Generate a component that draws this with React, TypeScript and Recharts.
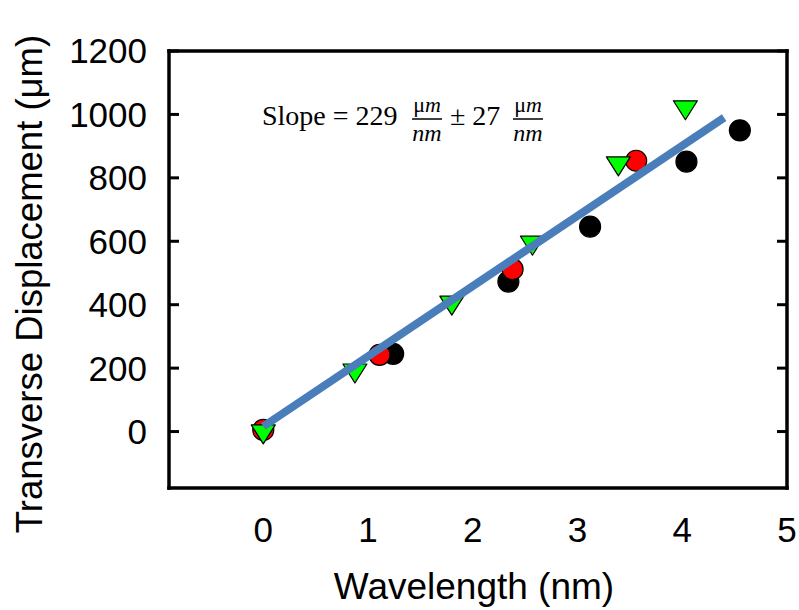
import React from 'react';
import { ScatterChart, Scatter, XAxis, YAxis } from 'recharts';

// Black circles
const blackX = [1.24, 2.34, 3.12, 4.04, 4.55];
const blackY = [245, 473, 646, 851, 950];

// Red circles
const redX = [0, 1.11, 2.38, 3.56];
const redY = [5, 242, 512, 854];

// Green triangles (pointing down)
const greenX = [0, 0.875, 1.8, 2.57, 3.39, 4.03];
const greenY = [-9, 183, 397, 586, 836, 1013];

// Fit line end points
const fitX = [0, 4.4];
const fitY = [16, 990];

const xTicks = [0, 1, 2, 3, 4, 5];
const yTicks = [0, 200, 400, 600, 800, 1000, 1200];
const xDomain = [-0.9, 5];
const yDomain = [-178, 1200];

const zip = (xs: number[], ys: number[]) => xs.map((x, i) => ({ x, y: ys[i] }));

const blackData = zip(blackX, blackY);
const redData = zip(redX, redY);
const greenData = zip(greenX, greenY);
const fitData = zip(fitX, fitY);

const sans = 'Liberation Sans, Arial, sans-serif';
const serif = 'Liberation Serif, Times New Roman, serif';
const tickFont = { fontFamily: sans, fontSize: 35, fill: '#000' };
const axisLineStyle = { stroke: '#000', strokeWidth: 3.5, strokeLinecap: 'square' as const };
const tickLineStyle = { stroke: '#000', strokeWidth: 3 };

// tick marks only, no label
const NoLabel = () => <g />;

const Circle = (fill: string) => (props: any) => {
  const { cx, cy } = props;
  return <circle cx={cx} cy={cy} r={10.5} fill={fill} stroke="#000" strokeWidth={1.2} />;
};

const Triangle = (props: any) => {
  const { cx, cy } = props;
  const w = 12;
  const h = 9.5;
  return (
    <polygon
      points={`${cx - w},${cy - h} ${cx + w},${cy - h} ${cx},${cy + h}`}
      fill="#00ff00"
      stroke="#000"
      strokeWidth={1.2}
      strokeLinejoin="round"
    />
  );
};

const Fraction = ({ cx }: { cx: number }) => (
  <g fontFamily={serif}>
    <text x={cx} y={112} fontSize={22} textAnchor="middle">
      μ<tspan fontStyle="italic">m</tspan>
    </text>
    <line x1={cx - 15} x2={cx + 15} y1={119} y2={119} stroke="#000" strokeWidth={1.5} />
    <text x={cx} y={141} fontSize={24} fontStyle="italic" textAnchor="middle">nm</text>
  </g>
);

export default function App() {
  return (
    <div style={{ position: 'absolute', left: 0, top: 0, width: 799, height: 610, background: '#fff' }}>
      <ScatterChart width={799} height={610} margin={{ top: 51, right: 12, bottom: 62, left: 0 }}>
        {/* labelled axes */}
        <XAxis
          type="number"
          dataKey="x"
          domain={xDomain}
          ticks={xTicks}
          allowDataOverflow
          height={60}
          axisLine={axisLineStyle}
          tickLine={false}
          tickSize={0}
          tickMargin={29}
          tick={tickFont}
        />
        <YAxis
          type="number"
          dataKey="y"
          domain={yDomain}
          ticks={yTicks}
          allowDataOverflow
          width={169}
          axisLine={axisLineStyle}
          tickLine={false}
          tickSize={0}
          tickMargin={22}
          tick={tickFont}
        />
        {/* inward tick marks on all four sides */}
        <XAxis
          xAxisId="bottomTicks"
          orientation="bottom"
          mirror
          type="number"
          domain={xDomain}
          ticks={xTicks}
          allowDataOverflow
          axisLine={false}
          tickLine={tickLineStyle}
          tickSize={10}
          tick={NoLabel}
        />
        <XAxis
          xAxisId="top"
          orientation="top"
          mirror
          type="number"
          domain={xDomain}
          ticks={xTicks}
          allowDataOverflow
          axisLine={axisLineStyle}
          tickLine={tickLineStyle}
          tickSize={10}
          tick={NoLabel}
        />
        <YAxis
          yAxisId="leftTicks"
          orientation="left"
          mirror
          type="number"
          domain={yDomain}
          ticks={yTicks}
          allowDataOverflow
          axisLine={false}
          tickLine={tickLineStyle}
          tickSize={10}
          tick={NoLabel}
        />
        <YAxis
          yAxisId="right"
          orientation="right"
          mirror
          type="number"
          domain={yDomain}
          ticks={yTicks}
          allowDataOverflow
          axisLine={axisLineStyle}
          tickLine={tickLineStyle}
          tickSize={10}
          tick={NoLabel}
        />
        <Scatter data={blackData} shape={Circle('#000')} isAnimationActive={false} />
        <Scatter data={redData} shape={Circle('#ff0000')} isAnimationActive={false} />
        <Scatter data={greenData} shape={Triangle} isAnimationActive={false} />
        <Scatter
          data={fitData}
          line={{ stroke: '#4a7ebb', strokeWidth: 8 }}
          shape={() => null}
          isAnimationActive={false}
        />
      </ScatterChart>
      <svg
        width={799}
        height={610}
        style={{ position: 'absolute', left: 0, top: 0, pointerEvents: 'none' }}
      >
        <text
          x={42}
          y={284}
          transform="rotate(-90 42 284)"
          textAnchor="middle"
          fontFamily={sans}
          fontSize={36.5}
        >
          Transverse Displacement (μm)
        </text>
        <text x={474} y={599} textAnchor="middle" fontFamily={sans} fontSize={37}>
          Wavelength (nm)
        </text>
        <text x={262} y={125} fontFamily={serif} fontSize={28}>
          Slope = 229
        </text>
        <Fraction cx={427} />
        <text x={450} y={125} fontFamily={serif} fontSize={28}>
          ± 27
        </text>
        <Fraction cx={528} />
      </svg>
    </div>
  );
}
